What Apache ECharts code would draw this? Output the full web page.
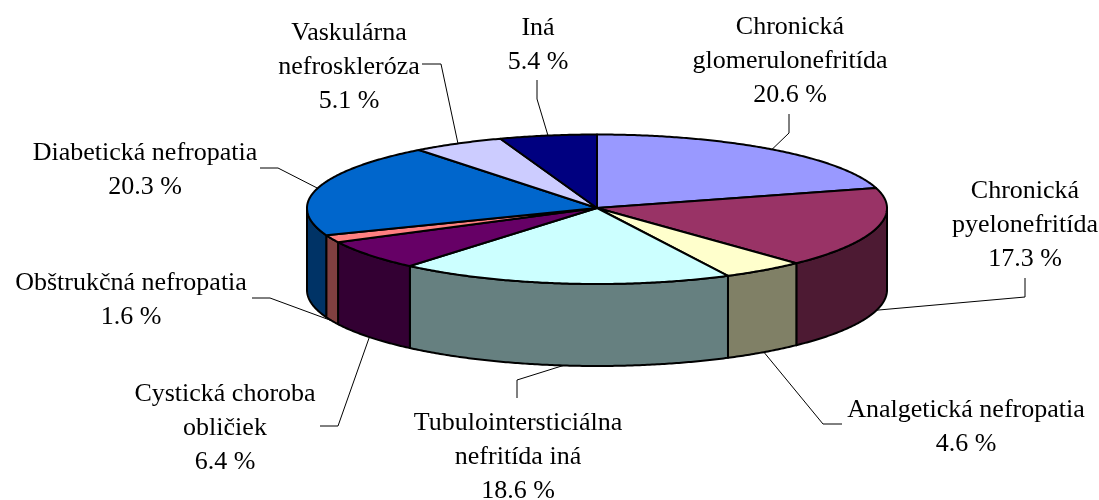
<!DOCTYPE html>
<html>
<head>
<meta charset="utf-8">
<style>html,body{margin:0;padding:0;background:#fff}#c{width:1099px;height:500px}</style>
<script src="https://cdn.jsdelivr.net/npm/echarts@6/dist/echarts.min.js"></script>
</head>
<body>
<div id="c"></div>
<script>
// Data
var categories = ['Chronická\nglomerulonefritída','Chronická\npyelonefritída','Analgetická nefropatia','Tubulointersticiálna\nnefritída iná','Cystická choroba\nobličiek','Obštrukčná nefropatia','Diabetická nefropatia','Vaskulárna\nnefroskleróza','Iná'];
var shares = [20.6,17.3,4.6,18.6,6.4,1.6,20.3,5.1,5.4];
var topColors = ['#9999FF','#993366','#FFFFCC','#CCFFFF','#660066','#FF8080','#0066CC','#CCCCFF','#000080'];
var wallColors = ['#4D4D80','#4D1A33','#808066','#668080','#330033','#804040','#003366','#666680','#000040'];

// Layout (not data): pie projection, label centres and leader elbows
var CX = 597, CY = 208, RX = 290, RY_BACK = 73.5, RY_FRONT = 76, DEPTH = 82;
var FONT_SIZE = 26, LINE_H = 34;
var labelCenters = [[790,61],[1025,225],[966,427],[518,457],[225,428],[131,300],[145,170],[349,67],[538,45]];
var leaderStarts = [[789,114],[1025,278],[842,424],[517,398],[320,426],[252,298],[260,168],[422,64],[537,80]];
var leaderElbows = [[789,133],[1025,297],[823,424],[517,380],[338,426],[270,298],[278,168],[441,64],[537,99]];

var total = shares.reduce(function(s,v){return s+v;},0);
var starts = [], acc = 0;
shares.forEach(function(v){starts.push(acc); acc += v;});
function deg(v){return v/total*360;}
function pt(d,drop){var r=d*Math.PI/180,c=Math.cos(r);return [CX+RX*Math.sin(r),CY-(c>0?RY_BACK:RY_FRONT)*c+(drop||0)];}
function arc(a,b,drop){var n=Math.max(2,Math.ceil(Math.abs(b-a)*2)),out=[];for(var i=0;i<=n;i++){out.push(pt(a+(b-a)*i/n,drop));}return out;}

function renderItem(params, api){
  var i = params.dataIndex;
  var a = deg(api.value(1)), b = a + deg(api.value(0));
  var kids = [];
  var stroke = {stroke:'#000',lineWidth:2,lineJoin:'round'};
  var wa = Math.max(a,90), wb = Math.min(b,270);
  if (wb > wa) {
    kids.push({type:'polygon',shape:{points:arc(wa,wb,0).concat(arc(wb,wa,DEPTH))},
      style:Object.assign({fill:wallColors[i]},stroke)});
  }
  kids.push({type:'polygon',shape:{points:[[CX,CY]].concat(arc(a,b,0))},
    style:Object.assign({fill:topColors[i]},stroke)});
  var mid=(a+b)/2, anchor=pt(mid,(mid>90&&mid<270)?DEPTH:0);
  kids.push({type:'polyline',shape:{points:[leaderStarts[i],leaderElbows[i],anchor]},
    style:{stroke:'#000',lineWidth:1,fill:null},z2:-1});
  kids.push({type:'text',x:labelCenters[i][0],y:labelCenters[i][1],
    style:{text:categories[i]+'\n'+api.value(0).toFixed(1)+' %',fill:'#000',
      font:FONT_SIZE+'px "Liberation Serif"',lineHeight:LINE_H,align:'center',verticalAlign:'middle'}});
  return {type:'group',children:kids};
}

var chart = echarts.init(document.getElementById('c'),null,{renderer:'canvas'});
chart.setOption({
  animation:false,
  backgroundColor:'#fff',
  series:[{
    type:'custom',
    coordinateSystem:'none',
    silent:true,
    renderItem:renderItem,
    dimensions:['share','start'],
    data:shares.map(function(v,i){return {name:categories[i],value:[v,starts[i]]};})
  }]
});
</script>
</body>
</html>
